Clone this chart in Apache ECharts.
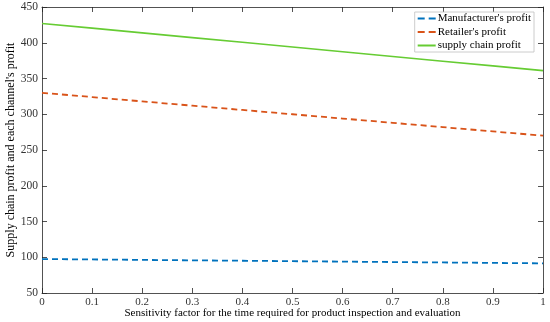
<!DOCTYPE html>
<html><head><meta charset="utf-8">
<script src="https://cdn.jsdelivr.net/npm/echarts@6/dist/echarts.min.js"></script>
<style>html,body{margin:0;padding:0;background:#fff}#c{width:550px;height:322px}</style>
</head><body><div id="c"></div>
<script>
const xValues = [0, 0.1, 0.2, 0.3, 0.4, 0.5, 0.6, 0.7, 0.8, 0.9, 1];
const manufacturerProfit = [97.5, 96.9, 96.3, 95.7, 95.1, 94.5, 93.9, 93.3, 92.7, 92.1, 91.5];
const retailerProfit = [330, 324, 318, 312, 306, 300, 294, 288, 282, 276, 270];
const supplyChainProfit = [427, 420.4, 413.8, 407.2, 400.6, 394, 387.4, 380.8, 374.2, 367.6, 361];
const seriesNames = ["Manufacturer's profit", "Retailer's profit", "supply chain profit"];
const xTitle = "Sensitivity factor for the time required for product inspection and evaluation";
const yTitle = "Supply chain profit and each channel's profit";

const font = "Liberation Serif";
const axisCol = '#262626';
const dashIcon = 'path://M0,0h7v2h-7z M11,0h7v2h-7z';
const solidIcon = 'path://M0,0h18v2h-18z';
const pairs = arr => xValues.map((x, i) => [x, arr[i]]);
const chart = echarts.init(document.getElementById('c'));
const baseAxis = {
  axisLine: {show: true, onZero: false, lineStyle: {color: axisCol, width: 0.8}},
  axisTick: {show: true, inside: true, length: 5, lineStyle: {color: axisCol, width: 0.8}},
  splitLine: {show: false}
};
chart.setOption({
  animation: false,
  backgroundColor: '#fff',
  grid: {left: 42, right: 7, top: 7, bottom: 29, containLabel: false, outerBoundsMode: 'none'},
  legend: {
    right: 16, top: 12, orient: 'vertical', itemGap: 2.5,
    itemWidth: 18, itemHeight: 2,
    backgroundColor: '#fff', borderColor: '#bfbfbf', borderWidth: 0.8,
    padding: [1, 3, 1, 3],
    textStyle: {fontFamily: font, fontSize: 11, color: '#000', padding: [0, 0, 0, -3]},
    data: [
      {name: seriesNames[0], icon: dashIcon},
      {name: seriesNames[1], icon: dashIcon},
      {name: seriesNames[2], icon: solidIcon}
    ]
  },
  xAxis: [
    Object.assign({}, baseAxis, {
      type: 'value', min: 0, max: 1, interval: 0.1,
      name: xTitle, nameLocation: 'middle', nameGap: 15, nameMoveOverlap: false,
      nameTextStyle: {fontFamily: font, fontSize: 11, color: '#000'},
      axisLabel: {fontFamily: font, fontSize: 11, color: '#333', margin: 4,
        formatter: v => String(Math.round(v * 10) / 10)}
    }),
    Object.assign({}, baseAxis, {
      type: 'value', min: 0, max: 1, interval: 0.1, position: 'top',
      axisLabel: {show: false}
    })
  ],
  yAxis: [
    Object.assign({}, baseAxis, {
      type: 'value', min: 50, max: 450, interval: 50,
      name: yTitle, nameLocation: 'middle', nameGap: 25, nameMoveOverlap: false,
      nameTextStyle: {fontFamily: font, fontSize: 12, color: '#000'},
      axisLabel: {fontFamily: font, fontSize: 11.5, color: '#333', margin: 4}
    }),
    Object.assign({}, baseAxis, {
      type: 'value', min: 50, max: 450, interval: 50, position: 'right',
      axisLabel: {show: false}
    })
  ],
  series: [
    {name: seriesNames[0], type: 'line', data: pairs(manufacturerProfit), symbol: 'none',
      color: '#0072BD', lineStyle: {width: 1.8, type: [6, 4], color: '#0072BD'}},
    {name: seriesNames[1], type: 'line', data: pairs(retailerProfit), symbol: 'none',
      color: '#D95319', lineStyle: {width: 1.8, type: [6, 4], color: '#D95319'}},
    {name: seriesNames[2], type: 'line', data: pairs(supplyChainProfit), symbol: 'none',
      color: '#66CC33', lineStyle: {width: 1.6, color: '#66CC33'}}
  ]
});
</script></body></html>
